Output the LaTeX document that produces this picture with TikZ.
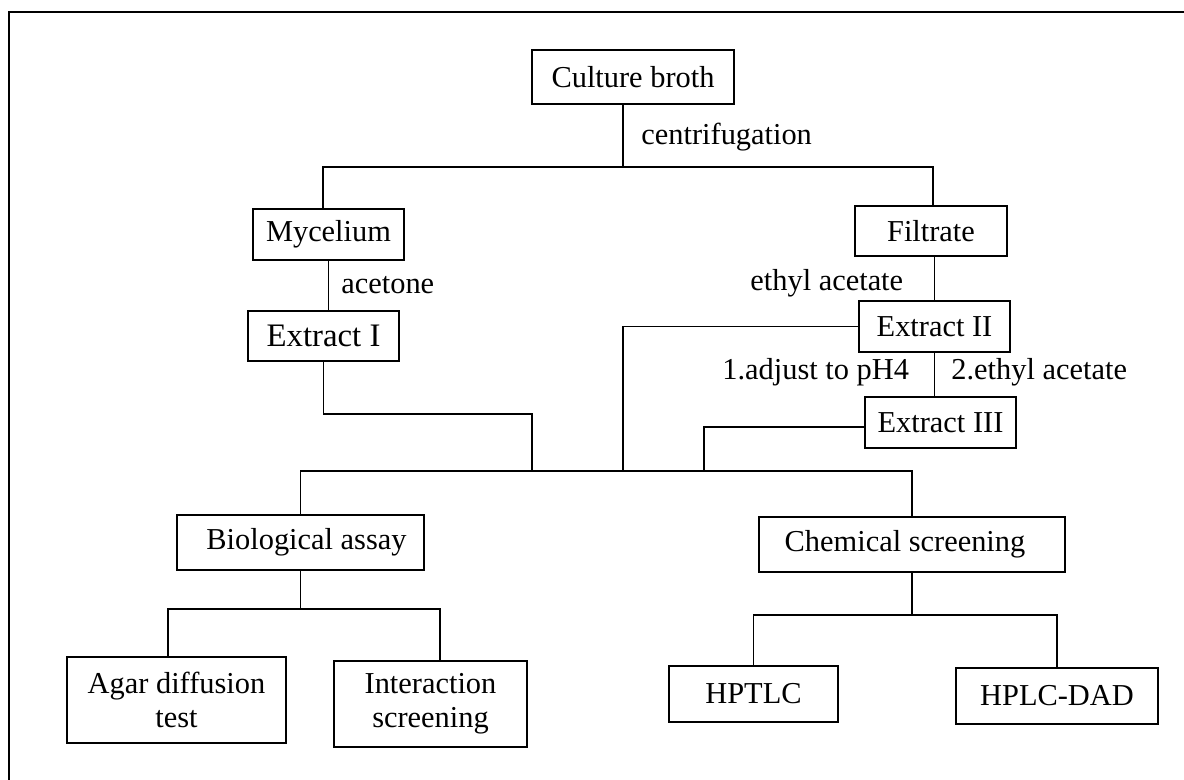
\documentclass[tikz,border=0pt]{standalone}
\usepackage{fontspec}
\setmainfont{Liberation Serif}
\usetikzlibrary{calc}
\tikzset{
  boite/.style={draw,line width=1pt,align=center,inner sep=0pt,
    font=\fontsize{15.2}{17}\selectfont},
  lien/.style={line width=0.8pt},
  note/.style={anchor=west,inner sep=0pt,font=\fontsize{15.2}{17}\selectfont},
}

\begin{document}
\begin{tikzpicture}[x=0.5pt,y=-0.5pt]
  \useasboundingbox (0,0) rectangle (1184,780);
  \draw[line width=1pt] (9,790) -- (9,12) -- (1190,12);
  \node[boite,minimum width=101pt,minimum height=27pt] (broth) at (633,77) {Culture broth};
  \node[boite,minimum width=75.5pt,minimum height=25.5pt] (myc) at (328.5,234.5) {Mycelium};
  \node[boite,minimum width=76pt,minimum height=25pt] (filt) at (931,231) {Filtrate};
  \node[boite,minimum width=75.5pt,minimum height=25pt,font=\fontsize{16.4}{19}\selectfont] (ext1) at (323.5,336) {Extract I};
  \node[boite,minimum width=75.5pt,minimum height=25.5pt] (ext2) at (934.5,326.5) {Extract II};
  \node[boite,minimum width=75.5pt,minimum height=25.5pt] (ext3) at (940.5,422.5) {Extract III};
  \node[boite,minimum width=123.5pt,minimum height=27.5pt] (bio) at (300.5,542.5) {\hspace{6pt}Biological assay};
  \node[boite,minimum width=153pt,minimum height=27.5pt] (chem) at (912,544.5) {Chemical screening\hspace{7pt}};
  \node[boite,minimum width=109.5pt,minimum height=43pt] (agar) at (176.5,700) {Agar diffusion\\test};
  \node[boite,minimum width=96.5pt,minimum height=43pt] (inter) at (430.5,704) {Interaction\\screening};
  \node[boite,minimum width=84.5pt,minimum height=28pt] (hptlc) at (753.5,694) {HPTLC};
  \node[boite,minimum width=101pt,minimum height=28pt] (hplc) at (1057,696) {HPLC-DAD};

  \node[note] (centri) at (641,137) {centrifugation};
  \node[note] (acet) at (341,285) {acetone};
  \node[note] (ethyl1) at (750,283) {ethyl acetate};
  \node[note] (ph) at (722,372) {1.adjust to pH4};
  \node[note] (ethyl2) at (951,372) {2.ethyl acetate};

  \coordinate (c1) at (623,167);
  \coordinate (m1) at (323,167);
  \coordinate (m2) at (933,167);
  \coordinate (bus) at (623,471);
  \coordinate (j1) at (532,414);
  \coordinate (j2) at (704,471);
  \coordinate (a1) at (168,609);
  \coordinate (a2) at (440,609);
  \coordinate (j4) at (910,615);
  \draw[lien] (broth.south -| c1) -- (c1);
  \draw[lien] (myc.north -| m1) -- (m1) -- (m2) -- (m2 |- filt.north);
  \draw[lien] (myc.south -| ext1.north) ++(2.5pt,0) -- ([xshift=2.5pt]ext1.north);
  \draw[lien] (ext2.north |- filt.south) -- (ext2.north);
  \draw[lien] (ext2.south) -- (ext2.south |- ext3.north);
  \draw[lien] (ext1.south) |- (j1) -- (j1 |- bus);
  \draw[lien] (ext2.west) -| (bus);
  \draw[lien] ([yshift=-2.25pt]ext3.west) -| (j2);
  \draw[lien] (bio.north) |- (bus) -| (chem.north);
  \draw[lien] (bio.south) -- (bio.south |- a1);
  \draw[lien] (agar.north -| a1) -- (a1) -- (a2) -- (a2 |- inter.north);
  \draw[lien] (chem.south) -- (chem.south |- j4);
  \draw[lien] (hptlc.north) |- (j4) -| (hplc.north);
\end{tikzpicture}
\end{document}
